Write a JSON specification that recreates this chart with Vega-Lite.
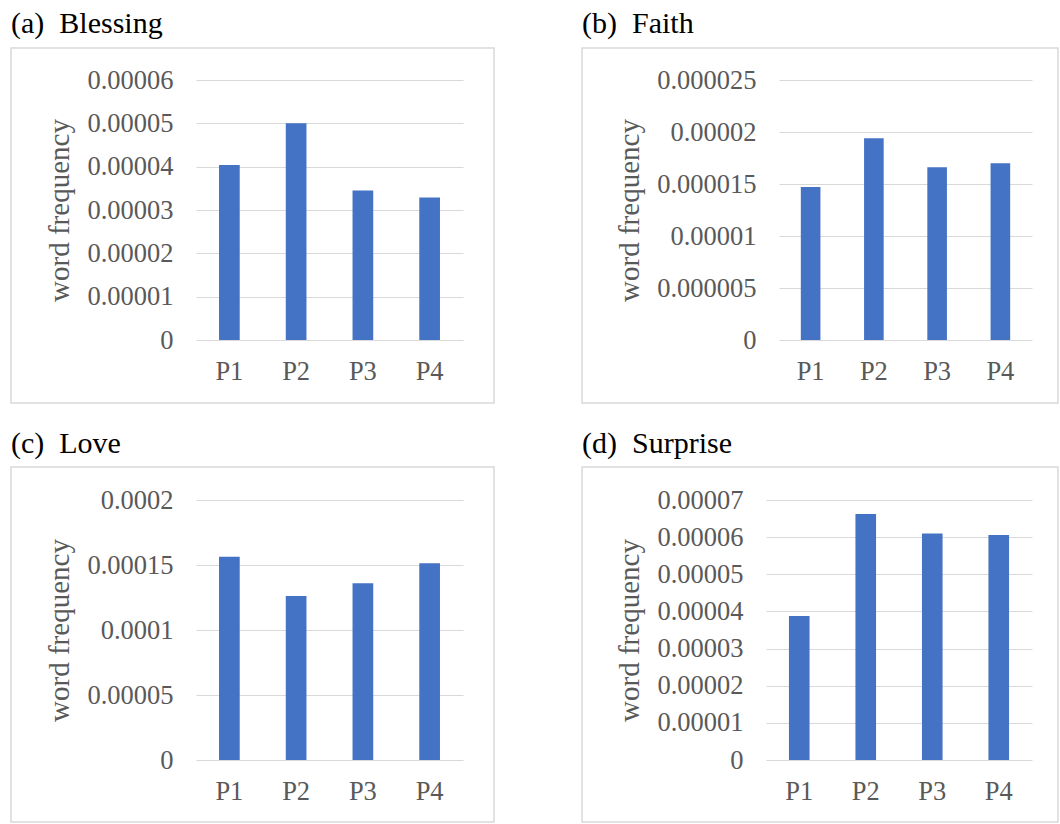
{
  "$schema": "https://vega.github.io/schema/vega-lite/v6.json",
  "padding": {"left": 10, "top": 8, "right": 0, "bottom": 0},
  "background": "white",
  "data": {
    "values": [
      {"panel": "a", "period": "P1", "freq": 0.0000404},
      {"panel": "a", "period": "P2", "freq": 0.0000500},
      {"panel": "a", "period": "P3", "freq": 0.0000345},
      {"panel": "a", "period": "P4", "freq": 0.0000329},
      {"panel": "b", "period": "P1", "freq": 0.0000147},
      {"panel": "b", "period": "P2", "freq": 0.0000194},
      {"panel": "b", "period": "P3", "freq": 0.0000166},
      {"panel": "b", "period": "P4", "freq": 0.0000170},
      {"panel": "c", "period": "P1", "freq": 0.0001564},
      {"panel": "c", "period": "P2", "freq": 0.0001262},
      {"panel": "c", "period": "P3", "freq": 0.0001359},
      {"panel": "c", "period": "P4", "freq": 0.0001513},
      {"panel": "d", "period": "P1", "freq": 0.0000388},
      {"panel": "d", "period": "P2", "freq": 0.0000662},
      {"panel": "d", "period": "P3", "freq": 0.0000610},
      {"panel": "d", "period": "P4", "freq": 0.0000606}
    ]
  },
  "vconcat": [
    {
      "hconcat": [
        {
          "title": {"text": "(a)\u00a0\u00a0Blessing", "font": "Liberation Serif", "fontSize": 30, "fontWeight": 400, "color": "#000000", "anchor": "start", "frame": "group", "baseline": "alphabetic", "offset": -15},
          "width": 483, "height": 355,
          "transform": [{"filter": "datum.panel === 'a'"}],
          "mark": {"type": "bar", "color": "#4472C4"},
          "encoding": {
            "x": {"field": "period", "type": "nominal", "sort": ["P1", "P2", "P3", "P4"],
                  "scale": {"range": [185, 452], "paddingInner": 0.69, "paddingOuter": 0.345},
                  "axis": {"offset": -63, "title": null}},
            "y": {"field": "freq", "type": "quantitative",
                  "scale": {"domain": [0, 0.00006], "range": [292, 32], "nice": false, "zero": true},
                  "axis": {"offset": -185, "title": "word frequency", "values": [0, 0.00001, 0.00002, 0.00003, 0.00004, 0.00005, 0.00006]}}
          }
        },
        {
          "title": {"text": "(b)\u00a0\u00a0Faith", "font": "Liberation Serif", "fontSize": 30, "fontWeight": 400, "color": "#000000", "anchor": "start", "frame": "group", "baseline": "alphabetic", "offset": -15},
          "width": 476, "height": 355,
          "transform": [{"filter": "datum.panel === 'b'"}],
          "mark": {"type": "bar", "color": "#4472C4"},
          "encoding": {
            "x": {"field": "period", "type": "nominal", "sort": ["P1", "P2", "P3", "P4"],
                  "scale": {"range": [197, 450], "paddingInner": 0.69, "paddingOuter": 0.345},
                  "axis": {"offset": -63, "title": null}},
            "y": {"field": "freq", "type": "quantitative",
                  "scale": {"domain": [0, 0.000025], "range": [292, 32], "nice": false, "zero": true},
                  "axis": {"offset": -197, "title": "word frequency", "values": [0, 0.000005, 0.00001, 0.000015, 0.00002, 0.000025]}}
          }
        }
      ]
    },
    {
      "hconcat": [
        {
          "title": {"text": "(c)\u00a0\u00a0Love", "font": "Liberation Serif", "fontSize": 30, "fontWeight": 400, "color": "#000000", "anchor": "start", "frame": "group", "baseline": "alphabetic", "offset": -16},
          "width": 483, "height": 355,
          "transform": [{"filter": "datum.panel === 'c'"}],
          "mark": {"type": "bar", "color": "#4472C4"},
          "encoding": {
            "x": {"field": "period", "type": "nominal", "sort": ["P1", "P2", "P3", "P4"],
                  "scale": {"range": [185, 452], "paddingInner": 0.69, "paddingOuter": 0.345},
                  "axis": {"offset": -62, "title": null}},
            "y": {"field": "freq", "type": "quantitative",
                  "scale": {"domain": [0, 0.0002], "range": [293, 33], "nice": false, "zero": true},
                  "axis": {"offset": -185, "title": "word frequency", "values": [0, 0.00005, 0.0001, 0.00015, 0.0002]}}
          }
        },
        {
          "title": {"text": "(d)\u00a0\u00a0Surprise", "font": "Liberation Serif", "fontSize": 30, "fontWeight": 400, "color": "#000000", "anchor": "start", "frame": "group", "baseline": "alphabetic", "offset": -16},
          "width": 476, "height": 355,
          "transform": [{"filter": "datum.panel === 'd'"}],
          "mark": {"type": "bar", "color": "#4472C4"},
          "encoding": {
            "x": {"field": "period", "type": "nominal", "sort": ["P1", "P2", "P3", "P4"],
                  "scale": {"range": [184, 450], "paddingInner": 0.69, "paddingOuter": 0.345},
                  "axis": {"offset": -62, "title": null}},
            "y": {"field": "freq", "type": "quantitative",
                  "scale": {"domain": [0, 0.00007], "range": [293, 33], "nice": false, "zero": true},
                  "axis": {"offset": -184, "title": "word frequency", "values": [0, 0.00001, 0.00002, 0.00003, 0.00004, 0.00005, 0.00006, 0.00007]}}
          }
        }
      ]
    }
  ],
  "spacing": 24,
  "config": {
    "concat": {"spacing": 86},
    "view": {"stroke": "#D9D9D9", "strokeWidth": 1.5},
    "axis": {"labelFont": "Liberation Serif", "labelFontSize": 26.5, "labelColor": "#595959",
             "titleFont": "Liberation Serif", "titleFontSize": 29, "titleColor": "#595959", "titleFontWeight": 400,
             "domain": false, "ticks": false, "gridColor": "#D9D9D9", "gridWidth": 1},
    "axisX": {"labelAngle": 0, "labelPadding": 18, "grid": false},
    "axisY": {"titlePadding": 12, "labelPadding": 23, "grid": true, "format": "~g"}
  }
}
